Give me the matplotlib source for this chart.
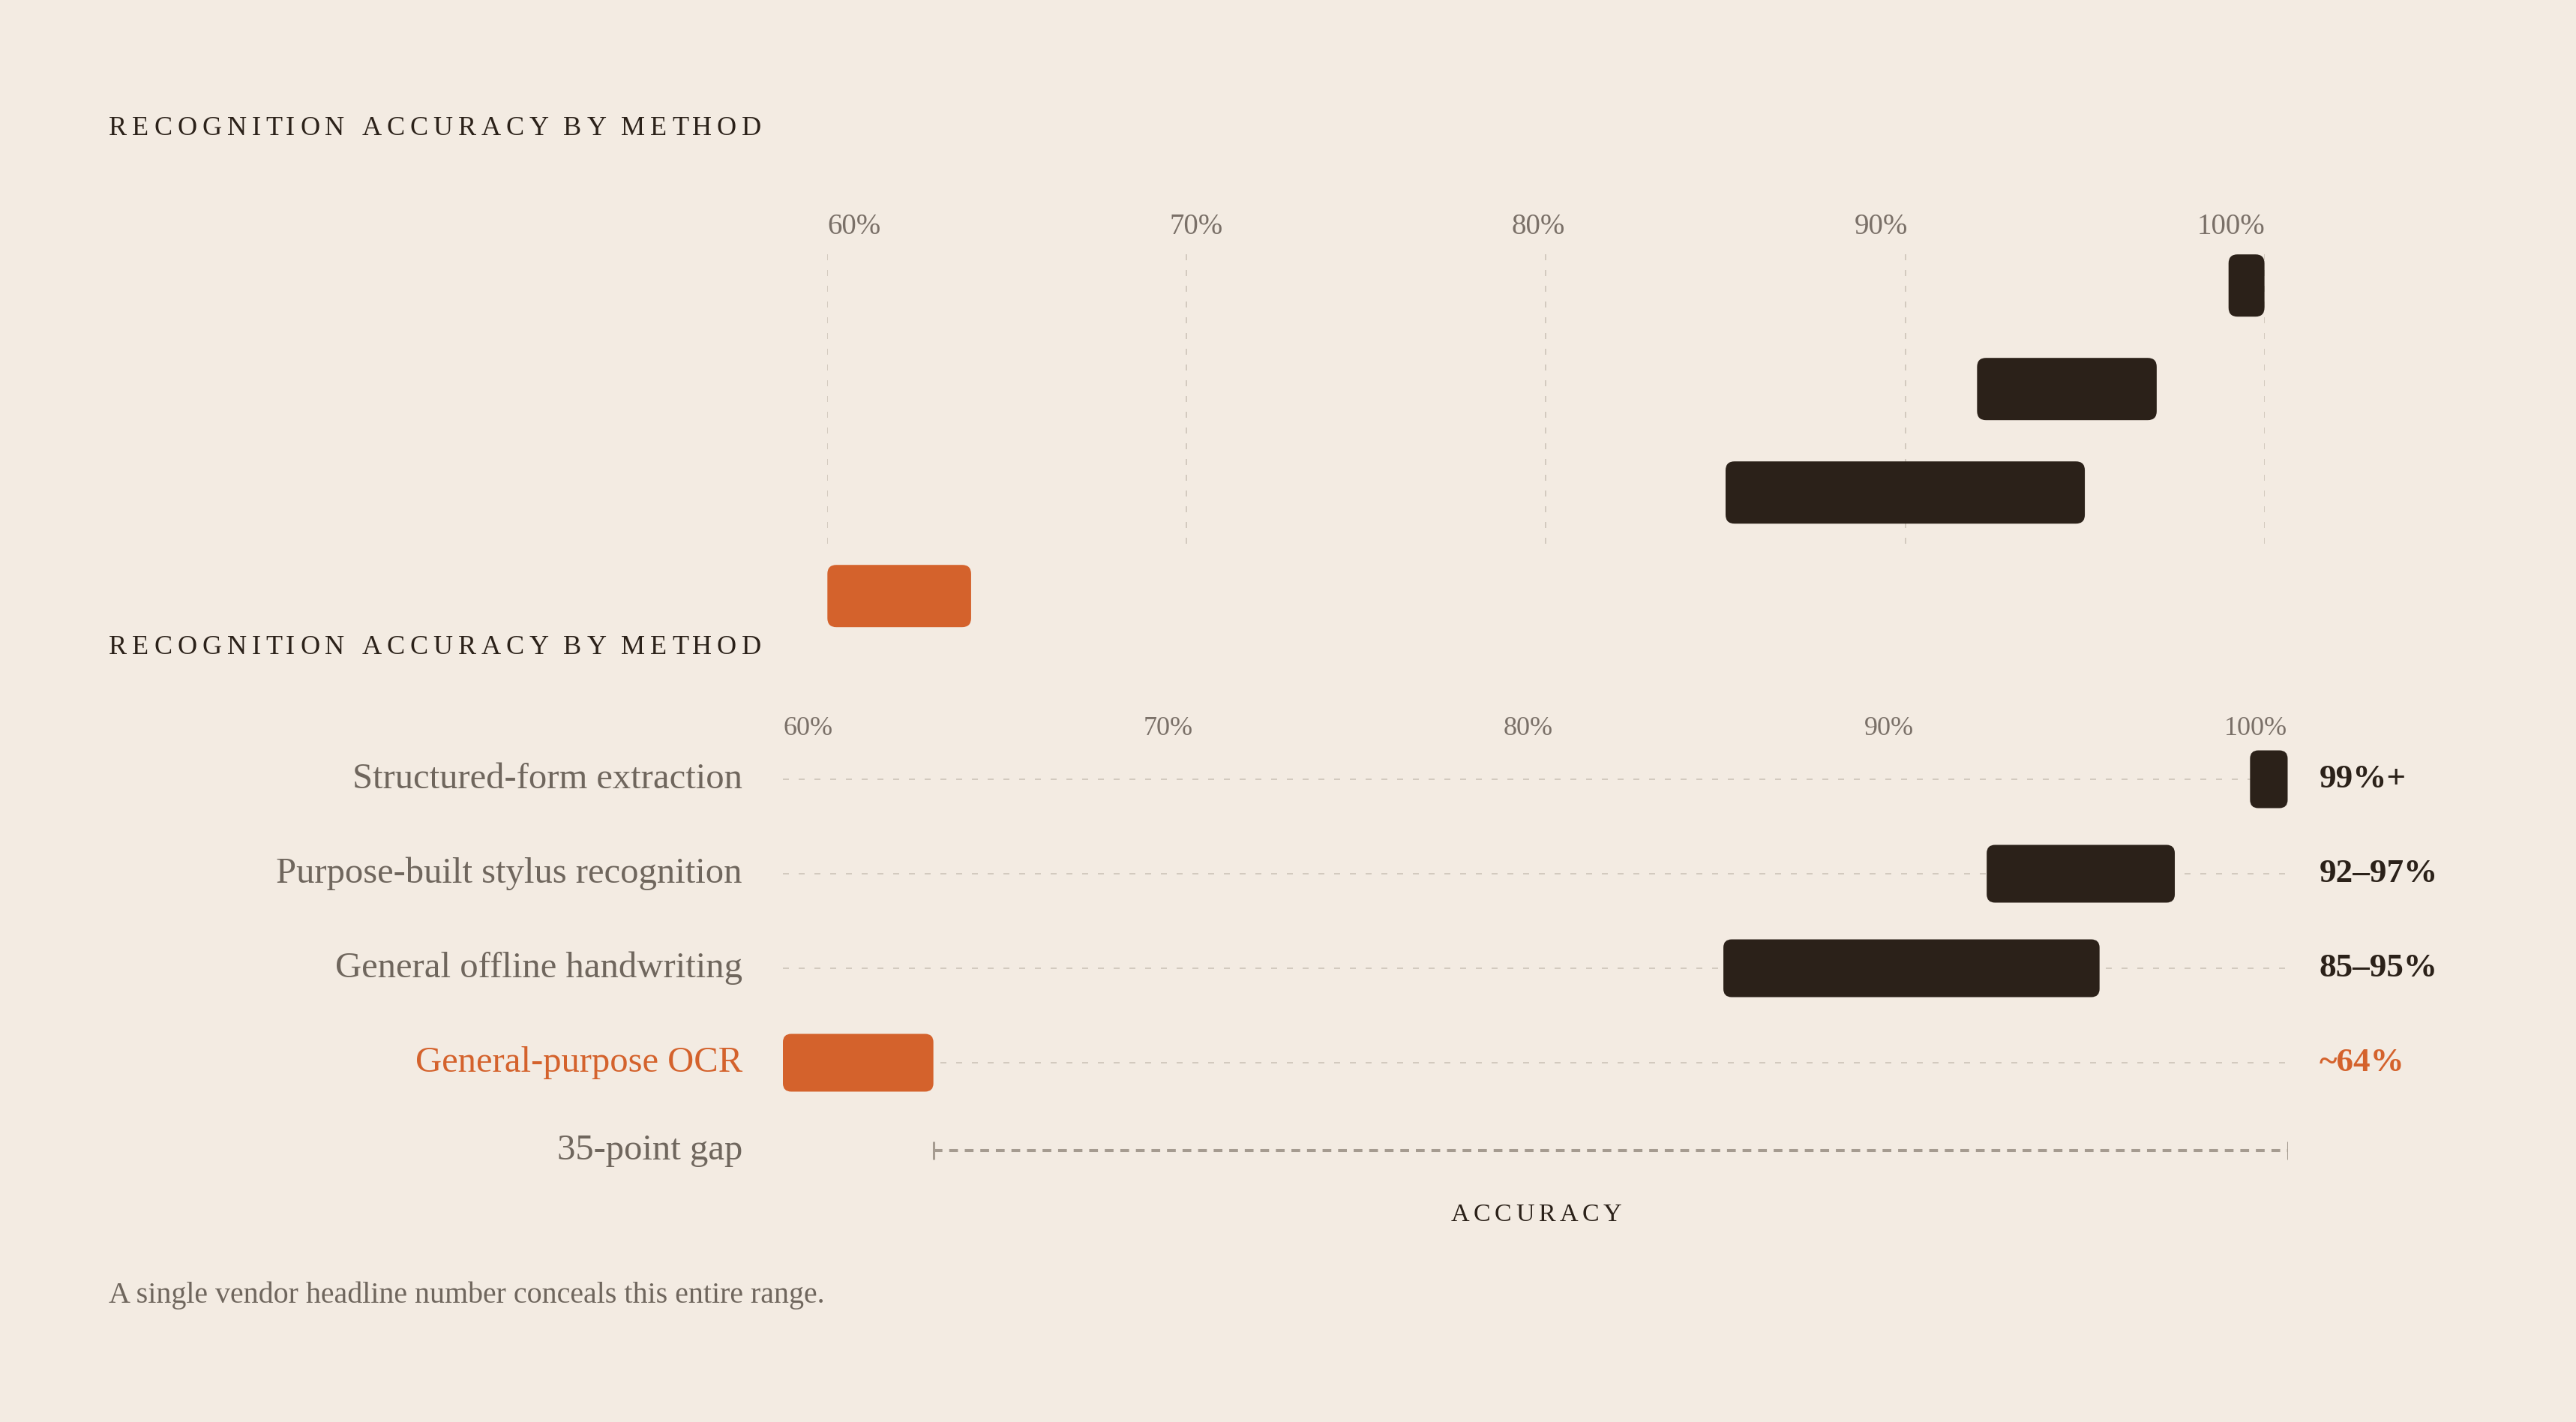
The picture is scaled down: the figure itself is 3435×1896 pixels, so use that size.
import matplotlib
matplotlib.use("Agg")
import matplotlib.pyplot as plt
from matplotlib.patches import FancyBboxPatch
from matplotlib.transforms import blended_transform_factory

# data
methods = ["Structured-form extraction", "Purpose-built stylus recognition",
           "General offline handwriting", "General-purpose OCR"]
low = [99, 92, 85, 60]
high = [100, 97, 95, 64]
value_labels = ["99%+", "92\u201397%", "85\u201395%", "~64%"]
highlight = [False, False, False, True]
ticks = [60, 70, 80, 90, 100]
tick_labels = ["60%", "70%", "80%", "90%", "100%"]
gap_from, gap_to = 64, 100
gap_label = "35-point gap"
title = "RECOGNITION ACCURACY BY METHOD"
axis_label = "ACCURACY"
note = "A single vendor headline number conceals this entire range."

W, H = 3435, 1896
BG = "#f3ebe2"
INK = "#2b2119"
MUTED = "#6f665d"
TICK = "#7a7068"
ACCENT = "#d4622c"
GRID = "#d3cabf"
GAPC = "#a59b90"
SERIF = ["Liberation Serif", "DejaVu Serif"]

fig = plt.figure(figsize=(W / 100, H / 100), dpi=100, facecolor=BG)
rend = fig.canvas.get_renderer()


def fx(x):
    return x / W


def fy(y):
    return 1 - y / H


def text_w(s, size, weight="normal"):
    t = fig.text(0, 0, s, fontsize=size, family=SERIF, fontweight=weight)
    w = t.get_window_extent(rend).width
    t.remove()
    return w


def spaced(x, y, s, size, track, color, ha="left"):
    # letter-spaced text, placed char by char (pixel coords, y = baseline)
    base = text_w("aa", size)
    widths = [text_w("a" + ch + "a", size) - base for ch in s]
    total = sum(widths) + track * (len(s) - 1)
    if ha == "center":
        x = x - total / 2
    for ch, w in zip(s, widths):
        if ch != " ":
            fig.text(fx(x), fy(y), ch, fontsize=size, family=SERIF, color=color,
                     ha="left", va="baseline")
        x += w + track


def spread_ticks(x0, x1, y, size):
    # labels justified edge to edge (space-between)
    ws = [text_w(s, size) for s in tick_labels]
    gap = (x1 - x0 - sum(ws)) / (len(ws) - 1)
    x = x0
    for s, w in zip(tick_labels, ws):
        fig.text(fx(x), fy(y), s, fontsize=size, family=SERIF, color=TICK,
                 ha="left", va="baseline")
        x += w + gap


def make_axes(x60, x100, row0, pitch, nrows):
    top = row0 - 0.5 * pitch
    bot = row0 + (nrows - 0.5) * pitch
    ax = fig.add_axes([fx(x60), fy(bot), (x100 - x60) / W, (bot - top) / H])
    ax.set_xlim(ticks[0], ticks[-1])
    ax.set_ylim(nrows - 0.5, -0.5)
    ax.axis("off")
    ax.patch.set_alpha(0)
    return ax


def draw_bars(ax, bar_h, radius_px):
    p0 = ax.transData.transform((0, 0))
    p1 = ax.transData.transform((1, 1))
    xpx = abs(p1[0] - p0[0])
    ypx = abs(p1[1] - p0[1])
    for i, (lo, hi) in enumerate(zip(low, high)):
        c = ACCENT if highlight[i] else INK
        bar = FancyBboxPatch((lo, i - bar_h / 2), hi - lo, bar_h,
                             boxstyle=f"round,pad=0,rounding_size={radius_px / xpx}",
                             mutation_aspect=xpx / ypx,
                             facecolor=c, edgecolor="none", zorder=3)
        ax.add_patch(bar)


# ---- first (unlabelled) copy ----
spaced(145, 180, title, 26, 7, INK)
spread_ticks(1103, 3020, 312, 28)
ax1 = make_axes(1103.3, 3019.6, 380.7, 138, 4)
ax1.vlines(ticks, -0.30, 2.50, color=GRID, lw=1.44, linestyle=(0, (4, 6.5)), zorder=1)
draw_bars(ax1, 83 / 138, 12)

# ---- second (labelled) copy ----
spaced(145, 872, title, 26, 7, INK)
spread_ticks(1044, 3050, 980, 26)
ax2 = make_axes(1044, 3050.5, 1039, 126, 5)
for i in range(len(methods)):
    ax2.hlines(i, ticks[0], ticks[-1], color=GRID, lw=1.44,
               linestyle=(0, (4, 6.5)), zorder=1)
draw_bars(ax2, 77 / 126, 11)

lab_tr = blended_transform_factory(fig.transFigure, ax2.transData)
for i, m in enumerate(methods):
    c = ACCENT if highlight[i] else MUTED
    ax2.text(fx(990), i, m, transform=lab_tr, ha="right", va="center",
             fontsize=35, family=SERIF, color=c)
    vc = ACCENT if highlight[i] else INK
    ax2.text(fx(3093), i, value_labels[i], transform=lab_tr, ha="left", va="center",
             fontsize=32.5, family=SERIF, fontweight="bold", color=vc)

# gap bracket
gy = 3.93
ax2.hlines(gy, gap_from, gap_to, color=GAPC, lw=2.9, linestyle=(0, (2.9, 2.25)), zorder=2)
ax2.vlines([gap_from, gap_to], gy - 0.095, gy + 0.095, color=GAPC, lw=2.2, zorder=2)
ax2.text(fx(990), gy, gap_label, transform=lab_tr, ha="right", va="center",
         fontsize=35, family=SERIF, color=MUTED)

spaced(2047, 1628, axis_label, 24.5, 5.6, INK, ha="center")
fig.text(fx(145), fy(1737), note, fontsize=28.8, family=SERIF, color=MUTED,
         ha="left", va="baseline")

fig.savefig("out.png", dpi=100, facecolor=BG)
